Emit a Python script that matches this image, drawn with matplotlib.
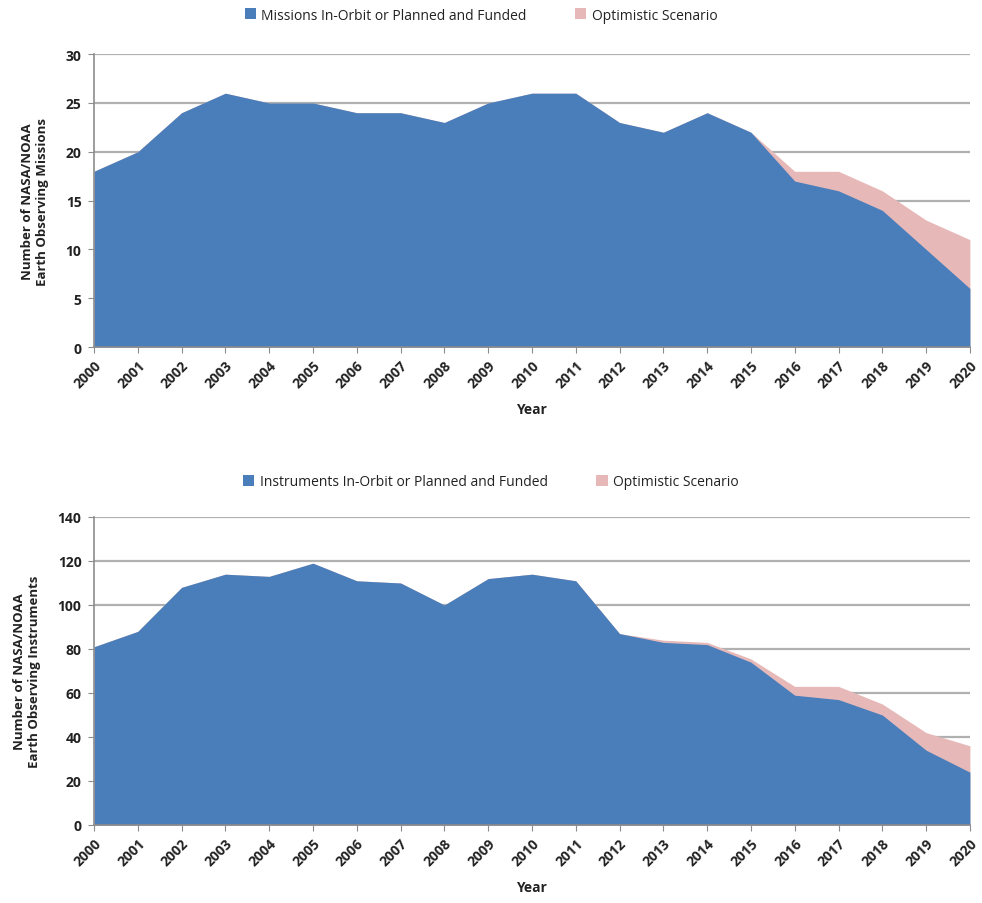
import matplotlib.pyplot as plt
from matplotlib.patches import Patch
import numpy as np

years = list(range(2000, 2021))

missions = [18, 20, 24, 26, 25, 25, 24, 24, 23, 25, 26, 26, 23, 22, 24, 22, 17, 16, 14, 10, 6]
missions_opt = [18, 20, 24, 26, 25, 25, 24, 24, 23, 25, 26, 26, 23, 22, 24, 22, 18, 18, 16, 13, 11]

instruments = [81, 88, 108, 114, 113, 119, 111, 110, 100, 112, 114, 111, 87, 83, 82, 74, 59, 57, 50, 34, 24]
instruments_opt = [81, 88, 108, 114, 113, 119, 111, 110, 100, 112, 114, 111, 87, 84, 83, 75.5, 63, 63, 55, 42, 36]

blue = '#4a7ebb'
pink = '#e6b9b8'
grid_c = '#b0b0b0'
txt_c = '#222222'

plt.rcParams['font.family'] = ['Open Sans', 'DejaVu Sans']

fig = plt.figure(figsize=(9.82, 9.04), dpi=100)
ax1 = fig.add_axes([0.0957, 0.615, 0.892, 0.324])
ax2 = fig.add_axes([0.0957, 0.0863, 0.892, 0.3407])


def setup(ax, base, opt, ymax, step, ylabel, leg1, leg_x, leg_y):
    ax.fill_between(years, 0, opt, color=pink, lw=0, zorder=2)
    ax.fill_between(years, 0, base, color=blue, lw=0, zorder=3)
    ax.set_xlim(2000, 2020)
    ax.set_ylim(0, ymax)
    ax.set_yticks(np.arange(0, ymax + 1, step))
    ax.set_xticks(years)
    ax.set_xticklabels([str(y) for y in years], rotation=45, ha='right',
                       rotation_mode='anchor', fontsize=10, fontweight='bold', color=txt_c)
    for lab in ax.get_yticklabels():
        lab.set_fontsize(10)
        lab.set_fontweight('bold')
        lab.set_color(txt_c)
    ax.yaxis.grid(True, color=grid_c, lw=1.6, zorder=1)
    ax.set_axisbelow(True)
    for s in ['top', 'right']:
        ax.spines[s].set_visible(False)
    for s in ['left', 'bottom']:
        ax.spines[s].set_color('#8c8c8c')
        ax.spines[s].set_linewidth(1.2)
        ax.spines[s].set_zorder(4)
    ax.tick_params(axis='x', length=4, color='#8c8c8c', pad=4)
    ax.tick_params(axis='y', length=4, color='#8c8c8c', pad=5)
    ax.set_xlabel('Year', fontsize=10, fontweight='bold', color=txt_c, labelpad=8)
    ax.set_ylabel(ylabel, fontsize=9.5, fontweight='bold', color=txt_c, labelpad=12)
    handles = [Patch(facecolor=blue, edgecolor='none', label=leg1),
               Patch(facecolor=pink, edgecolor='none', label='Optimistic Scenario')]
    ax.legend(handles=handles, loc='center', bbox_to_anchor=(leg_x, leg_y),
              bbox_transform=fig.transFigure, ncol=2,
              frameon=False, fontsize=10, handlelength=0.8, handleheight=0.8,
              columnspacing=3.5, handletextpad=0.4, labelcolor=txt_c)


setup(ax1, missions, missions_opt, 30, 5,
      'Number of NASA/NOAA\nEarth Observing Missions',
      'Missions In-Orbit or Planned and Funded', 0.49, 1 - 16 / 904)
setup(ax2, instruments, instruments_opt, 140, 20,
      'Number of NASA/NOAA\nEarth Observing Instruments',
      'Instruments In-Orbit or Planned and Funded', 0.50, 1 - 483 / 904)

fig.savefig('out.png', dpi=100)
